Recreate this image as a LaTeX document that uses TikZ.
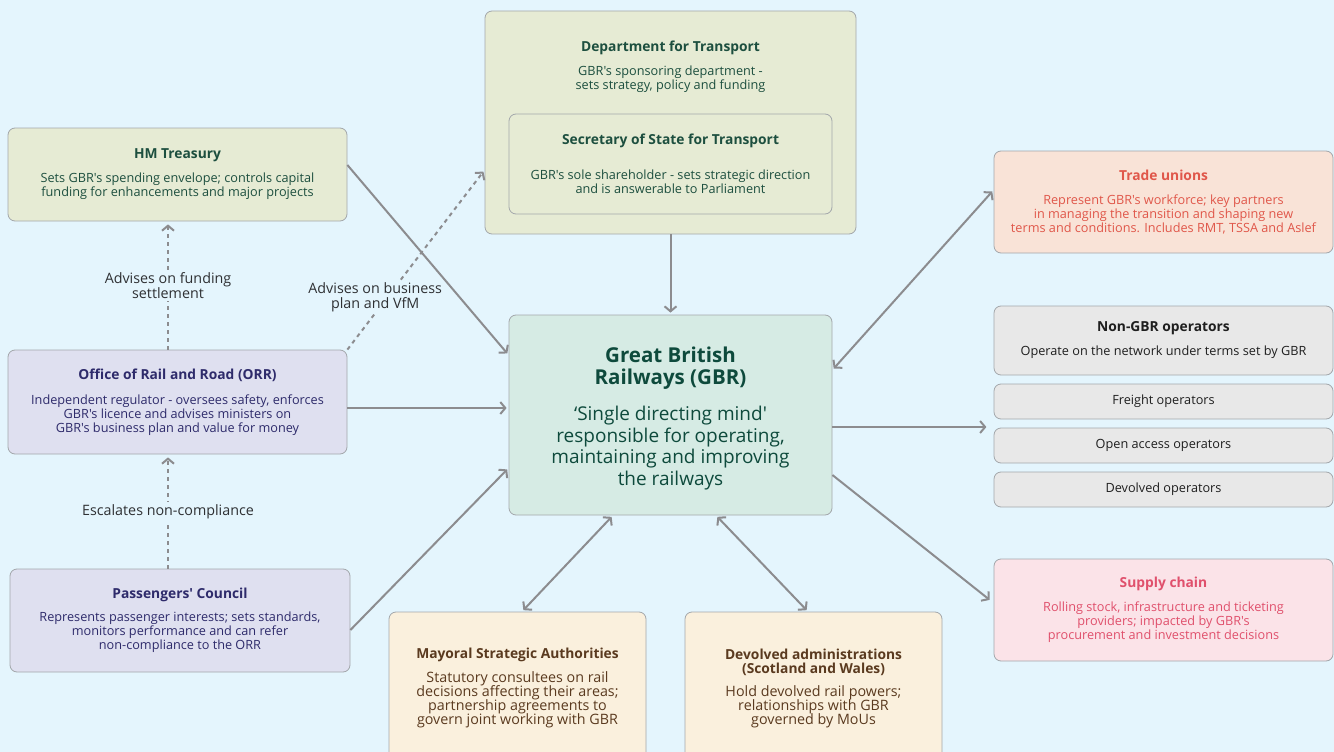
\documentclass[tikz,border=0pt]{standalone}
\usepackage{fontspec}
\setmainfont{Open Sans}[Ligatures=TeXOff]
\usetikzlibrary{arrows.meta,fit}

\definecolor{sky}{HTML}{E4F5FD}
\definecolor{frame}{HTML}{A3A7AB}
\definecolor{wire}{HTML}{8C8C8F}
\definecolor{labelgrey}{HTML}{2E3033}
\definecolor{govfill}{HTML}{E6EBD4}
\definecolor{govtext}{HTML}{1D4F3F}
\definecolor{gbrfill}{HTML}{D6EBE4}
\definecolor{gbrtext}{HTML}{0E4A3C}
\definecolor{regfill}{HTML}{DFE0F0}
\definecolor{regtext}{HTML}{2E2B6B}
\definecolor{unionfill}{HTML}{F9E3D7}
\definecolor{uniontext}{HTML}{E0574A}
\definecolor{opsfill}{HTML}{E8E8E8}
\definecolor{opstext}{HTML}{1F1F1F}
\definecolor{localfill}{HTML}{FAF0DD}
\definecolor{localtext}{HTML}{5A3A1F}
\definecolor{supplyfill}{HTML}{FBE3E8}
\definecolor{supplytext}{HTML}{E0506C}

\newcommand\boxtitle[1]{{\fontsize{13.8}{16}\selectfont\bfseries #1}}
\newcommand\gbrtitle[1]{{\fontsize{20.5}{21}\selectfont\bfseries #1}}
\newcommand\tightlines{\setlength{\lineskiplimit}{-6pt}}

\tikzset{
  box/.style={draw=frame, line width=0.8pt, rounded corners=7pt, inner sep=0pt,
    align=center, font=\fontsize{12.7}{14}\selectfont\tightlines},
  govbox/.style={box, fill=govfill, text=govtext},
  regbox/.style={box, fill=regfill, text=regtext},
  localbox/.style={box, fill=localfill, text=localtext,
    font=\fontsize{14.3}{14}\selectfont\tightlines},
  opsbox/.style={box, fill=opsfill, text=opstext, minimum width=339pt, minimum height=35pt},
  barb/.tip={Straight Barb[length=5pt,width=12pt]},
  link/.style={draw=wire, line width=2pt, -barb, shorten >=2pt},
  twoway/.style={link, barb-barb, shorten <=2pt},
  advice/.style={link, dash pattern=on 4pt off 4pt},
  lbl/.style={fill=sky, text=labelgrey, align=center, inner sep=2pt,
    font=\fontsize{14.3}{15}\selectfont}
}

\begin{document}
\begin{tikzpicture}[x=1pt, y=-1pt]
\path[use as bounding box, fill=sky] (0,0) rectangle (1334,752);

% government and regulators
\node[govbox, minimum width=339pt, minimum height=93pt] (treasury) at (177.5,174.5)
  {\boxtitle{HM Treasury}\\[10pt]
   Sets GBR's spending envelope; controls capital\\
   funding for enhancements and major projects};
\node[govbox, minimum width=371pt, minimum height=223pt] (dft) at (670.5,122.5) {};
\node[text=govtext, align=center, font=\fontsize{12.7}{14}\selectfont] (dfttext) at (670.5,67)
  {\boxtitle{Department for Transport}\\[10pt]
   GBR's sponsoring department -\\ sets strategy, policy and funding};
\node[govbox, minimum width=323pt, minimum height=100pt] (sos) at (670.5,164)
  {\boxtitle{Secretary of State for Transport}\\[21pt]
   GBR's sole shareholder - sets strategic direction\\
   and is answerable to Parliament};
\node[regbox, minimum width=339pt, minimum height=104pt] (orr) at (177.5,402)
  {\boxtitle{Office of Rail and Road (ORR)}\\[11pt]
   Independent regulator - oversees safety, enforces\\
   GBR's licence and advises ministers on\\
   GBR's business plan and value for money};
\node[regbox, minimum width=340pt, minimum height=103pt] (pass) at (180,620.5)
  {\boxtitle{Passengers' Council}\\[9pt]
   Represents passenger interests; sets standards,\\
   monitors performance and can refer\\
   non-compliance to the ORR};

% the centre
\node[box, fill=gbrfill, text=gbrtext, minimum width=323pt, minimum height=200pt,
  font=\fontsize{19}{21.5}\selectfont] (gbr) at (670.5,415)
  {\rule{0pt}{23pt}\gbrtitle{Great British}\\ \gbrtitle{Railways (GBR)}\\[15pt]
   ‘Single directing mind'\\ responsible for operating,\\
   maintaining and improving\\ the railways};

% right hand side
\node[box, fill=unionfill, text=uniontext, minimum width=339pt, minimum height=102pt] (unions) at (1163.5,202)
  {\boxtitle{Trade unions}\\[10pt]
   Represent GBR's workforce; key partners\\
   in managing the transition and shaping new\\
   terms and conditions. Includes RMT, TSSA and Aslef};
\node[box, fill=opsfill, text=opstext, minimum width=339pt, minimum height=69pt] (nongbr) at (1163.5,340.5)
  {\boxtitle{Non-GBR operators}\\[10pt]
   Operate on the network under terms set by GBR};
\foreach \nm/\yy/\txt in {freight/401.5/Freight operators,
    openacc/445.5/Open access operators, devops/489.5/Devolved operators}
  \node[opsbox] (\nm) at (1163.5,\yy) {\txt};
\node[fit=(nongbr)(devops), inner sep=0pt] (ops) {};
\node[box, fill=supplyfill, text=supplytext, minimum width=339pt, minimum height=102pt] (supply) at (1163.5,610)
  {\boxtitle{Supply chain}\\[10pt]
   Rolling stock, infrastructure and ticketing\\
   providers; impacted by GBR's\\
   procurement and investment decisions};

% bottom
\node[localbox, minimum width=257pt, minimum height=152pt] (mayoral) at (517.5,688)
  {\boxtitle{Mayoral Strategic Authorities}\\[10pt]
   Statutory consultees on rail\\ decisions affecting their areas;\\
   partnership agreements to\\ govern joint working with GBR};
\node[localbox, minimum width=257pt, minimum height=152pt] (devadmin) at (813.5,688)
  {\boxtitle{Devolved administrations}\\ \boxtitle{(Scotland and Wales)}\\[9pt]
   Hold devolved rail powers;\\ relationships with GBR\\ governed by MoUs};

% connectors
\draw[link] ([yshift=9.5pt]treasury.east) -- ([yshift=60pt]gbr.west);
\draw[link] ([yshift=-6pt]orr.east) -- ([yshift=7pt]gbr.west);
\draw[link] ([yshift=-9.5pt]pass.east) -- ([yshift=-53pt]gbr.west);
\draw[link] (dft.south) -- (gbr.north);
\draw[twoway] ([yshift=12pt]unions.west) -- ([yshift=45pt]gbr.east);
\draw[link, shorten >=7pt] ([yshift=-12pt]gbr.east) -- ([yshift=-20.5pt]ops.west);
\draw[link, shorten >=5pt] ([yshift=-60pt]gbr.east) -- ([yshift=7pt]supply.west);
\draw[twoway] ([xshift=-57.5pt]gbr.south) -- ([xshift=4.5pt]mayoral.north);
\draw[twoway] ([xshift=45.5pt]gbr.south) -- ([xshift=-5.5pt]devadmin.north);

\draw[advice, shorten >=3pt] ([xshift=-9.5pt]orr.north) -- ([xshift=-9.5pt]treasury.south)
  node[lbl, midway] (funding) {Advises on funding\\ settlement};
\draw[advice] (orr.north east) -- ([yshift=-47.5pt]dft.west)
  node[lbl, pos=0.29, xshift=-12pt] (vfm) {Advises on business\\ plan and VfM};
\draw[advice, shorten >=3pt] ([xshift=-12pt]pass.north) -- ([xshift=-9.5pt]orr.south)
  node[lbl, midway] (escalates) {Escalates non-compliance};
\end{tikzpicture}
\end{document}
